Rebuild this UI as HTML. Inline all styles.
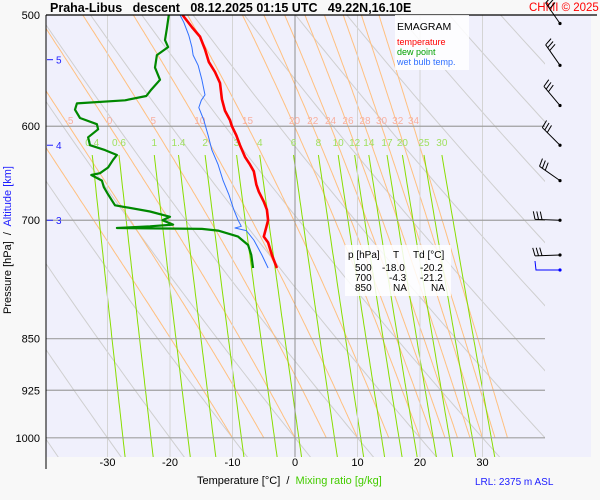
<!DOCTYPE html>
<html><head><meta charset="utf-8">
<style>
html,body{margin:0;padding:0;background:#f8f8f8;}
svg{display:block;font-family:"Liberation Sans",sans-serif;}
.pre{white-space:pre;}
</style></head>
<body>
<svg id="chart" width="600" height="500" viewBox="0 0 600 500" xmlns="http://www.w3.org/2000/svg">
<defs><clipPath id="plotclip"><rect x="46" y="15" width="499" height="442"/></clipPath></defs>
<rect x="46" y="15" width="545" height="442" fill="#f0f0fc"/>
<g id="bg" clip-path="url(#plotclip)"></g>
<g id="grid"></g>
<g id="labels"></g>
<g id="profiles" clip-path="url(#plotclip)"></g>
<line x1="46" y1="15" x2="597" y2="15" stroke="#000" stroke-width="1.2"/>
<line x1="46" y1="15" x2="46" y2="469" stroke="#000" stroke-width="1"/>
<g id="axes"></g>
<text class="pre" x="50" y="12" font-size="12.5" font-weight="bold">Praha-Libus   descent   08.12.2025 01:15 UTC   49.22N,16.10E</text>
<text x="529" y="11" font-size="11.5" fill="#ff0000">CHMI © 2025</text>
<g>
<rect x="395" y="15" width="74" height="55" fill="#ffffff" opacity="0.85"/>
<text x="397" y="30" font-size="10.5">EMAGRAM</text>
<text x="397" y="45" font-size="9" fill="#ff0000">temperature</text>
<text x="397" y="55" font-size="9" fill="#00a000">dew point</text>
<text x="397" y="65" font-size="9" fill="#3070ff">wet bulb temp.</text>
</g>
<g font-size="10">
<rect x="345" y="245" width="106" height="51" fill="#ffffff" opacity="0.85"/>
<text x="348" y="258">p [hPa]</text><text x="393" y="258">T</text><text x="413" y="258">Td [°C]</text>
<text x="355" y="271">500</text><text x="382" y="271">-18.0</text><text x="420" y="271">-20.2</text>
<text x="355" y="281">700</text><text x="389" y="281">-4.3</text><text x="420" y="281">-21.2</text>
<text x="355" y="291">850</text><text x="393" y="291">NA</text><text x="431" y="291">NA</text>
</g>
<g id="winds" stroke="#000" stroke-width="1" fill="none"></g>
<text class="pre" x="197" y="484" font-size="11">Temperature [°C]  /  <tspan fill="#44cc00">Mixing ratio [g/kg]</tspan></text>
<text x="475" y="485" font-size="10" fill="#2020ff">LRL: 2375 m ASL</text>
<text class="pre" transform="translate(11,240) rotate(-90)" text-anchor="middle" font-size="11">Pressure [hPa]  /  <tspan fill="#2020ff">Altitude [km]</tspan></text>
</svg>
<script>
// ---- data ----
const tempP = [500,510,518,529,540,549,559,574,585,594,600,609,619,631,639,646,660,668,679,688,700,708,719,726,741,757];
const tempT = [-18.0,-16.5,-15.2,-14.4,-13.8,-12.8,-12.0,-11.7,-11.2,-10.4,-10.1,-9.4,-8.8,-8.0,-7.2,-6.6,-6.2,-5.8,-5.0,-4.5,-4.3,-4.6,-5.0,-4.3,-3.7,-2.9];
const dewP = [500,511,521,527,534,545,556,565,571,575,578,584,592,598,603,611,619,624,629,634,642,648,650,656,663,671,683,690,696,700,705,707,709,710,712,719,729,741,757];
const dewT = [-20.2,-20.5,-20.8,-20.3,-22.1,-22.4,-21.6,-23.0,-23.8,-27.2,-34.9,-35.2,-34.4,-31.7,-31.5,-33.1,-32.8,-30.4,-28.5,-29.1,-29.9,-31.2,-32.6,-30.9,-30.6,-29.9,-28.8,-23.2,-20.0,-21.2,-19.5,-23.2,-28.5,-14.9,-12.3,-9.1,-7.5,-7.0,-6.7];
const wbP = [500,506,517,527,534,543,556,570,575,582,594,609,624,639,656,671,688,700,707,709,712,723,741,757];
const wbT = [-18.4,-17.8,-17.0,-16.5,-16.3,-15.5,-14.9,-14.4,-15.0,-15.4,-14.6,-13.9,-13.3,-12.3,-11.5,-10.6,-9.8,-9.1,-8.6,-9.6,-7.8,-6.6,-5.3,-4.3];
const pressureTicks = [500,600,700,850,925,1000];
const tempTicks = [-30,-20,-10,0,10,20,30];
const moistThetas = [-10,-5,0,5,10,15,20,22,24,26,28,30,32,34];
const moistLabels = [-5,0,5,10,15,20,22,24,26,28,30,32,34];
const dryThetas = [-40,-30,-20,-10,0,10,20,30,40,50,60,70,80,90,100];
const mixRatios = [0.4,0.6,1,1.4,2,3,4,6,8,10,12,14,17,20,25,30];
const altKm = [5,4,3];
const altP = [538,619,700];
const windP = [507,543,580,619,656,700,741];
const windDir = [35,35,40,45,55,88,92];

// ---- scales ----
const xT = t => 295 + 6.25*t;
const yP = p => 15 + 610*Math.log(p/500);
const NS = "http://www.w3.org/2000/svg";
function mk(tag, attrs, parent){const e=document.createElementNS(NS,tag);for(const k in attrs)e.setAttribute(k,attrs[k]);parent.appendChild(e);return e;}
const bg=document.getElementById('bg'), grid=document.getElementById('grid'), labels=document.getElementById('labels'), prof=document.getElementById('profiles'), axes=document.getElementById('axes'), winds=document.getElementById('winds');
const ptsStr = arr => arr.map(a=>a[0].toFixed(1)+','+a[1].toFixed(1)).join(' ');

dryThetas.forEach(th=>{
  const pts=[];
  for(let p=1040;p>=470;p-=10){const T=(th+273.15)*Math.pow(p/1000,0.286)-273.15;pts.push([xT(T),yP(p)]);}
  const e=mk('polyline',{points:ptsStr(pts),fill:'none',stroke:'#cfcfcf','stroke-width':1},bg);
  
  
});
function esat(T){return 6.112*Math.exp(17.67*T/(T+243.5));}
function moist(tw){
  const pts=[];let T=tw+273.15;
  for(let p=1000;p>=470;p-=2){
    pts.push([p,T-273.15]);
    const es=esat(T-273.15), rs=0.622*es/(p-es);
    const d=(287*T+2.5e6*rs)/(p*(1004+2.5e6*2.5e6*rs*0.622/(287*T*T)));
    T-=d*2;
  }
  return pts;
}
moistThetas.forEach(tw=>{
  const m=moist(tw);
  const e=mk('polyline',{points:ptsStr(m.map(a=>[xT(a[1]),yP(a[0])])),fill:'none',stroke:'#ffc080','stroke-width':1},bg);
  
  
  if(moistLabels.includes(tw)){
    const at=m.find(a=>a[0]<=600);
    const t=mk('text',{x:xT(at[1]),y:124,'font-size':10,fill:'#f8b0a0','text-anchor':'middle'},labels);
    t.textContent=tw;
    
    
  }
});
function tMix(w,p){const e=w*p/(622+w);const l=Math.log(e/6.112);return 243.5*l/(17.67-l);}
mixRatios.forEach(w=>{
  const pts=[];
  for(let p=629;p<=1034;p+=5)pts.push([xT(tMix(w,p)),yP(p)]);
  const e=mk('polyline',{points:ptsStr(pts),fill:'none',stroke:'#88dd00','stroke-width':1},bg);
  
  
  const t=mk('text',{x:xT(tMix(w,629)),y:146,'font-size':10,fill:'#a0e060','text-anchor':'middle'},labels);
  t.textContent=w;
  
  
});
tempTicks.forEach(t=>{
  const e=mk('line',{x1:xT(t),x2:xT(t),y1:15,y2:457,stroke:t===0?'#909090':'#d4d4d4','stroke-width':1},grid);
  
  
  const l=mk('text',{x:xT(t),y:466,'font-size':11,'text-anchor':'middle'},axes);
  l.textContent=t;
  
  
});
pressureTicks.forEach(p=>{
  if(p!==500){
    const e=mk('line',{x1:46,x2:545,y1:yP(p),y2:yP(p),stroke:'#a0a0a0','stroke-width':1.2},grid);
    
    
  }
  const l=mk('text',{x:40,y:yP(p)+4,'font-size':11,'text-anchor':'end'},axes);
  l.textContent=p;
  
  
});
altKm.forEach((k,i)=>{
  const y=yP(altP[i]);
  const d=mk('line',{x1:47,x2:53,y1:y,y2:y,stroke:'#2020ff','stroke-width':1},axes);
  
  
  const l=mk('text',{x:56,y:y+4,'font-size':10,fill:'#2020ff'},axes);
  l.textContent=k;
  
  
});
function prof_line(P,T,color,w,name){
  const pts=P.map((p,i)=>[xT(T[i]),yP(p)]);
  const e=mk('polyline',{points:ptsStr(pts),fill:'none',stroke:color,'stroke-width':w,'stroke-linejoin':'round'},prof);
  
  
}
prof_line(wbP,wbT,'#3070ff',1,'wet-bulb-line');
prof_line(dewP,dewT,'#008800',2.2,'dew-point-line');
prof_line(tempP,tempT,'#ff0000',2.6,'temperature-line');
windP.forEach((p,i)=>{
  const y=yP(p), x=560, L=25, r=windDir[i]*Math.PI/180;
  const ux=-Math.sin(r), uy=-Math.cos(r);
  const ex=x+L*ux, ey=y+L*uy;
  const g=mk('g',{},winds);
  
  
  mk('line',{x1:x,y1:y,x2:ex,y2:ey},g);
  for(let k=0;k<3;k++){
    const bx=ex-ux*k*3.5, by=ey-uy*k*3.5;
    const px=-uy, py=ux;
    mk('line',{x1:bx,y1:by,x2:bx+px*8+ux*2,y2:by+py*8+uy*2},g);
  }
  mk('circle',{cx:x,cy:y,r:1.6,fill:'#000',stroke:'none'},g);
});
const gb=mk('g',{stroke:'#0000ff'},winds);


mk('polyline',{points:'560,270 536,270 535,261'},gb);
mk('circle',{cx:560,cy:270,r:1.6,fill:'#0000ff',stroke:'none'},gb);
</script>
</body></html>
